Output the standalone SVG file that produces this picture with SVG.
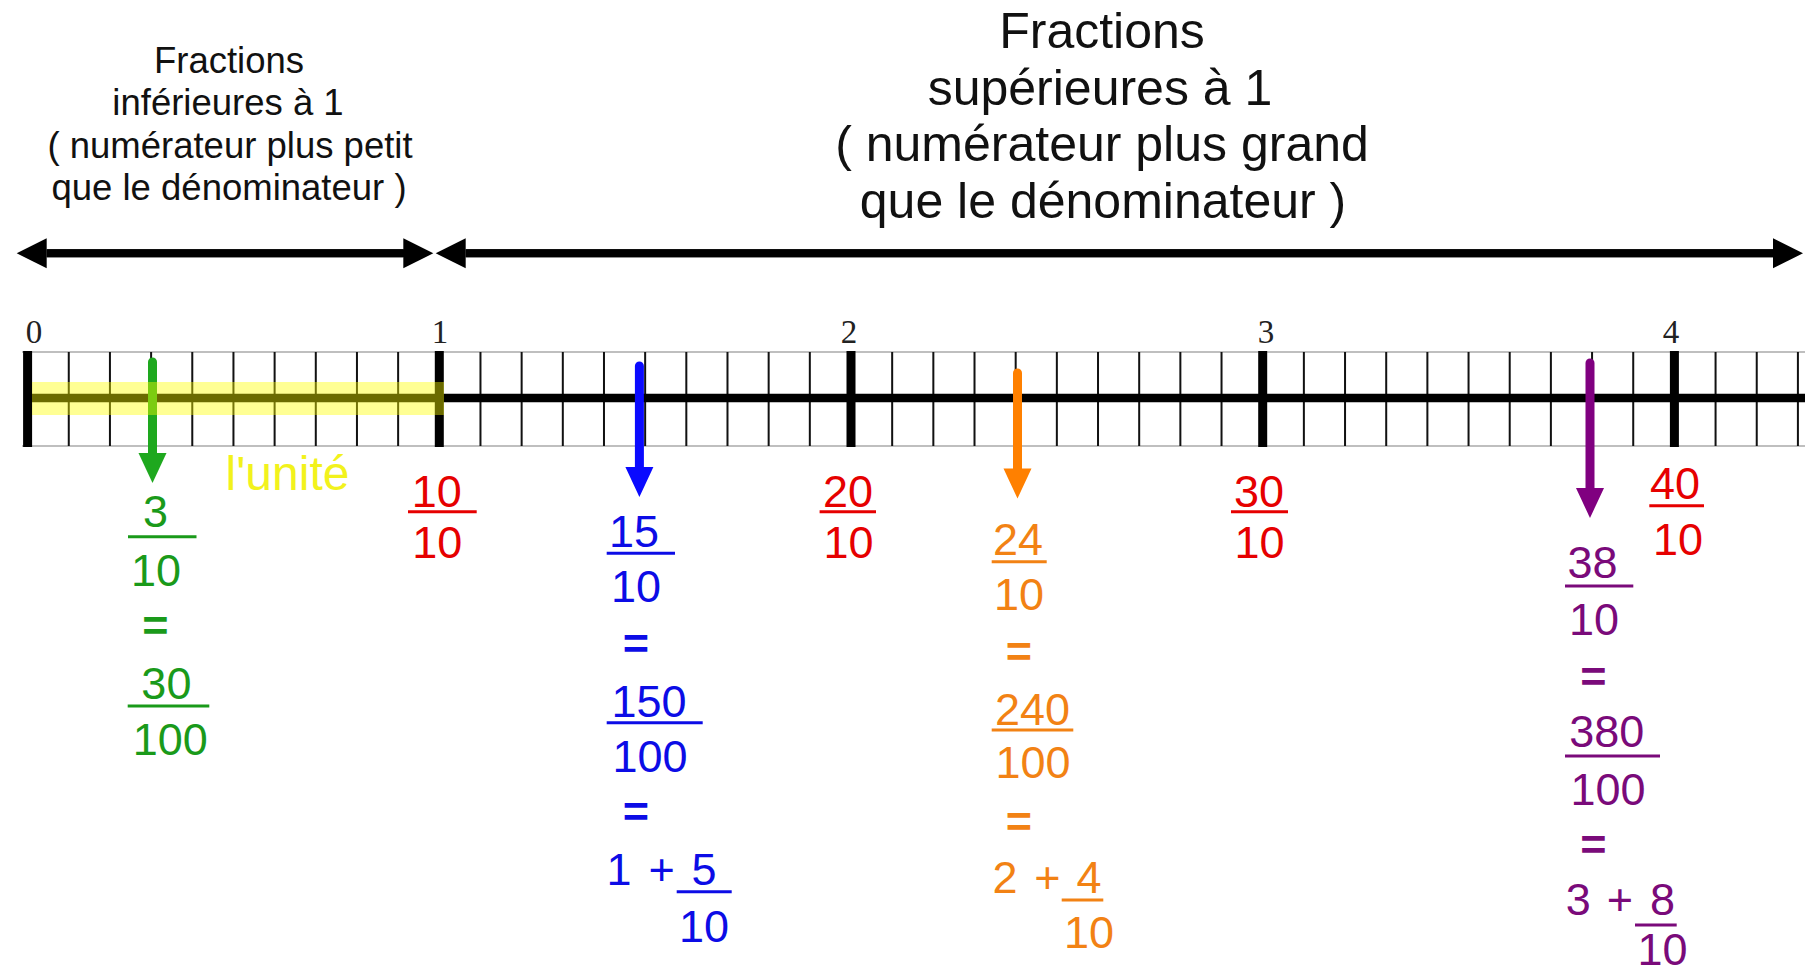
<svg xmlns="http://www.w3.org/2000/svg" width="1805" height="975" viewBox="0 0 1805 975">
<style>
text{font-family:"Liberation Sans",Arial,sans-serif}
.t1{font-size:36.5px;fill:#111;text-anchor:middle}
.t2{font-size:50px;fill:#111;text-anchor:middle}
.ax{font-family:"Liberation Serif","Times New Roman",serif;font-size:33px;fill:#222;text-anchor:middle}
.f{font-size:45px;text-anchor:middle}
.eq{font-weight:bold}
.g{fill:#1a9a1a}.b{fill:#0c0ce6}.o{fill:#f28214}.p{fill:#7a0a7a}.r{fill:#e60000}
.bar{stroke-width:3}
.gl{stroke:#1a9a1a}.bl{stroke:#0c0ce6}.ol{stroke:#f28214}.pl{stroke:#7a0a7a}.rl{stroke:#e60000}
.shaft{stroke-width:9;stroke-linecap:round;fill:none}
</style>
<defs>
<marker id="hk" markerUnits="userSpaceOnUse" markerWidth="32" markerHeight="32" refX="0" refY="15" orient="auto" overflow="visible"><path d="M0,0L30,15L0,30Z" fill="#000"/></marker>
<marker id="hg" markerUnits="userSpaceOnUse" markerWidth="32" markerHeight="30" refX="0" refY="14" orient="auto" overflow="visible"><path d="M0,0L30,14L0,28Z" fill="#1ea81e"/></marker>
<marker id="hb" markerUnits="userSpaceOnUse" markerWidth="32" markerHeight="30" refX="0" refY="14" orient="auto" overflow="visible"><path d="M0,0L30,14L0,28Z" fill="#0a0aff"/></marker>
<marker id="ho" markerUnits="userSpaceOnUse" markerWidth="32" markerHeight="30" refX="0" refY="14" orient="auto" overflow="visible"><path d="M0,0L30,14L0,28Z" fill="#ff8000"/></marker>
<marker id="hp" markerUnits="userSpaceOnUse" markerWidth="32" markerHeight="30" refX="0" refY="14" orient="auto" overflow="visible"><path d="M0,0L30,14L0,28Z" fill="#800080"/></marker>
</defs>
<rect width="1805" height="975" fill="#fff"/>

<g id="title-left">
<text class="t1" x="229" y="72.5">Fractions</text>
<text class="t1" x="228" y="115">inférieures à 1</text>
<text class="t1" x="230" y="157.5">( numérateur plus petit</text>
<text class="t1" x="229" y="200">que le dénominateur )</text>
</g>
<g id="title-right">
<text class="t2" x="1102" y="48">Fractions</text>
<text class="t2" x="1100" y="104.5">supérieures à 1</text>
<text class="t2" x="1102" y="161">( numérateur plus grand</text>
<text class="t2" x="1103" y="218">que le dénominateur )</text>
</g>

<g id="number-line">
<line x1="22" y1="352" x2="1805" y2="352" stroke="#aaa" stroke-width="1.5"/>
<line x1="22" y1="446" x2="1805" y2="446" stroke="#aaa" stroke-width="1.5"/>
<path stroke="#111" stroke-width="2" fill="none" d="M68.77,352V446M109.94,352V446M151.11,352V446M192.28,352V446M233.45,352V446M274.62,352V446M315.79,352V446M356.96,352V446M398.13,352V446M480.47,352V446M521.64,352V446M562.81,352V446M603.98,352V446M645.15,352V446M686.32,352V446M727.49,352V446M768.66,352V446M809.83,352V446M892.17,352V446M933.34,352V446M974.51,352V446M1015.68,352V446M1056.85,352V446M1098.02,352V446M1139.19,352V446M1180.36,352V446M1221.53,352V446M1303.87,352V446M1345.04,352V446M1386.21,352V446M1427.38,352V446M1468.55,352V446M1509.72,352V446M1550.89,352V446M1592.06,352V446M1633.23,352V446M1715.57,352V446M1756.74,352V446M1797.91,352V446"/>
<line x1="28" y1="398" x2="1805" y2="398" stroke="#000" stroke-width="8.5"/>
<path stroke="#000" stroke-width="9" fill="none" d="M27.6,351V447M439.3,351V447M851,351V447M1262.7,351V447M1674.4,351V447"/>
<text class="ax" x="34" y="343">0</text>
<text class="ax" x="440" y="343">1</text>
<text class="ax" x="849" y="343">2</text>
<text class="ax" x="1266" y="343">3</text>
<text class="ax" x="1671" y="343">4</text>
</g>

<g id="connectors">
<line x1="404" y1="253.3" x2="46.7" y2="253.3" stroke="#000" stroke-width="8" marker-end="url(#hk)"/>
<line x1="46.7" y1="253.3" x2="403.3" y2="253.3" stroke="#000" stroke-width="8" marker-end="url(#hk)"/>
<line x1="1773" y1="253.3" x2="465.7" y2="253.3" stroke="#000" stroke-width="8" marker-end="url(#hk)"/>
<line x1="465.7" y1="253.3" x2="1773" y2="253.3" stroke="#000" stroke-width="8" marker-end="url(#hk)"/>
<line class="shaft" x1="152.5" y1="362" x2="152.5" y2="453" stroke="#1ea81e" marker-end="url(#hg)"/>
<line class="shaft" x1="639.4" y1="366" x2="639.4" y2="467" stroke="#0a0aff" marker-end="url(#hb)"/>
<line class="shaft" x1="1017.5" y1="373" x2="1017.5" y2="468.5" stroke="#ff8000" marker-end="url(#ho)"/>
<line class="shaft" x1="1590" y1="363" x2="1590" y2="488" stroke="#800080" marker-end="url(#hp)"/>
</g>

<g id="unit-highlight">
<rect x="32" y="382" width="412" height="33" fill="#ffff00" opacity="0.42"/>
<text x="287.5" y="490" font-size="48" fill="#f2f21c" text-anchor="middle">l'unité</text>
</g>

<g id="red-marks">
<text class="f r" x="436.7" y="506.7">10</text>
<line class="bar rl" x1="408" y1="511.7" x2="476.7" y2="511.7"/>
<text class="f r" x="437.3" y="558.3">10</text>
<text class="f r" x="848" y="506.7">20</text>
<line class="bar rl" x1="819.6" y1="511.7" x2="876" y2="511.7"/>
<text class="f r" x="848.5" y="558.3">10</text>
<text class="f r" x="1259" y="506.7">30</text>
<line class="bar rl" x1="1231" y1="511.7" x2="1288" y2="511.7"/>
<text class="f r" x="1259.5" y="558.3">10</text>
<text class="f r" x="1675" y="499">40</text>
<line class="bar rl" x1="1649.3" y1="505.7" x2="1704" y2="505.7"/>
<text class="f r" x="1678" y="555">10</text>
</g>

<g id="fraction-green">
<text class="f g" x="155.5" y="527">3</text>
<line class="bar gl" x1="128" y1="536.7" x2="196.5" y2="536.7"/>
<text class="f g" x="156" y="586">10</text>
<text class="f g eq" x="155.5" y="641">=</text>
<text class="f g" x="166.4" y="699">30</text>
<line class="bar gl" x1="127.7" y1="706" x2="209.3" y2="706"/>
<text class="f g" x="170.3" y="755">100</text>
</g>

<g id="fraction-blue">
<text class="f b" x="634" y="546.7">15</text>
<line class="bar bl" x1="606.7" y1="553.3" x2="675" y2="553.3"/>
<text class="f b" x="636" y="601.7">10</text>
<text class="f b eq" x="635.8" y="658.5">=</text>
<text class="f b" x="649" y="716.7">150</text>
<line class="bar bl" x1="606.7" y1="722.7" x2="702.7" y2="722.7"/>
<text class="f b" x="650" y="771.7">100</text>
<text class="f b eq" x="636" y="826.8">=</text>
<text class="f b" x="619" y="885">1</text>
<text class="f b" x="661.7" y="885">+</text>
<text class="f b" x="704" y="885">5</text>
<line class="bar bl" x1="676.7" y1="891.7" x2="731.7" y2="891.7"/>
<text class="f b" x="704" y="941.7">10</text>
</g>

<g id="fraction-orange">
<text class="f o" x="1018" y="555">24</text>
<line class="bar ol" x1="991.7" y1="561.7" x2="1046.7" y2="561.7"/>
<text class="f o" x="1019" y="610">10</text>
<text class="f o eq" x="1019" y="666.8">=</text>
<text class="f o" x="1032.5" y="725">240</text>
<line class="bar ol" x1="991.7" y1="730" x2="1073.3" y2="730"/>
<text class="f o" x="1033" y="778.3">100</text>
<text class="f o eq" x="1019" y="836.8">=</text>
<text class="f o" x="1005" y="893.3">2</text>
<text class="f o" x="1047.5" y="893.3">+</text>
<text class="f o" x="1089" y="893.3">4</text>
<line class="bar ol" x1="1061.7" y1="900" x2="1103.3" y2="900"/>
<text class="f o" x="1089" y="948.3">10</text>
</g>

<g id="fraction-purple">
<text class="f p" x="1592.5" y="578.3">38</text>
<line class="bar pl" x1="1565" y1="586" x2="1633.3" y2="586"/>
<text class="f p" x="1594" y="635">10</text>
<text class="f p eq" x="1593.3" y="691.8">=</text>
<text class="f p" x="1606.7" y="746.7">380</text>
<line class="bar pl" x1="1565" y1="756" x2="1660" y2="756"/>
<text class="f p" x="1608" y="805">100</text>
<text class="f p eq" x="1593.3" y="860.2">=</text>
<text class="f p" x="1578.3" y="915">3</text>
<text class="f p" x="1620" y="915">+</text>
<text class="f p" x="1662.5" y="915">8</text>
<line class="bar pl" x1="1635" y1="925" x2="1676.7" y2="925"/>
<text class="f p" x="1662.5" y="965">10</text>
</g>
</svg>
